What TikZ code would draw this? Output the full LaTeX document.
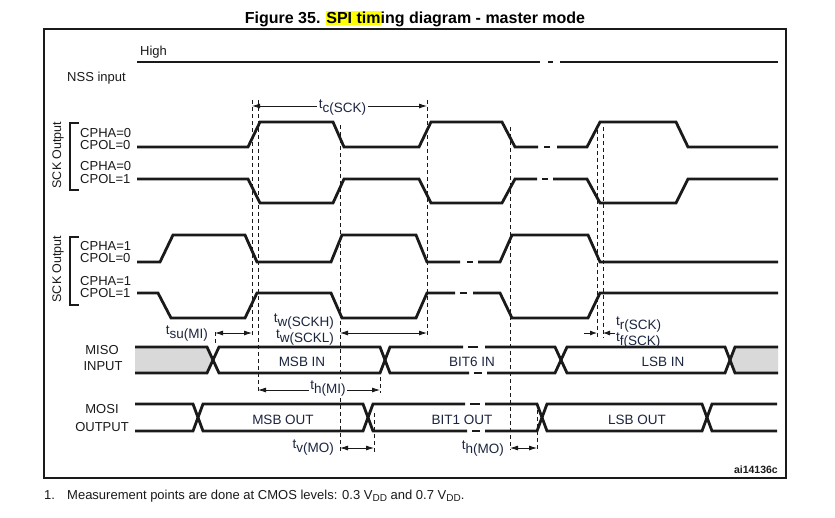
\documentclass[tikz,border=0pt]{standalone}
\usepackage{fontspec}
\setmainfont{Liberation Sans}
\usetikzlibrary{arrows.meta}
\definecolor{ink}{HTML}{1A1A1A}
\definecolor{lbl}{HTML}{1C2540}
\definecolor{greyfill}{HTML}{D9D9D9}
\definecolor{hl}{HTML}{FFFF00}
\newcommand\tsb[1]{t\raisebox{-4pt}{#1}}
\newcommand\vdd{V\raisebox{-2.5pt}{\fontsize{10}{12}\selectfont DD}}
\begin{document}
\begin{tikzpicture}[x=1pt,y=-1pt,
  sig/.style={draw=ink,line width=2.8pt},
  guide/.style={draw=ink,line width=0.9pt,dash pattern=on 4pt off 3pt},
  dim/.style={draw=ink,line width=0.8pt,{Latex[length=8pt,width=5pt]}-{Latex[length=8pt,width=5pt]}},
  onearr/.style={draw=ink,line width=0.8pt,-{Latex[length=7pt,width=5pt]}},
  lab/.style={font=\fontsize{13.5}{15}\selectfont,text=lbl,inner sep=0pt},
  blab/.style={font=\fontsize{13}{15}\selectfont,text=ink,inner sep=0pt},
  bracket/.style={draw=ink,line width=2.4pt}
]
\useasboundingbox (0,0) rectangle (835,517);
\fill[white] (0,0) rectangle (835,517);

% title
\node[font=\bfseries\fontsize{16}{18}\selectfont,anchor=base,inner sep=0pt] (title) at (415,23)
  {Figure 35. {\setlength\fboxsep{0pt}\colorbox{hl}{\rule[-2pt]{0pt}{14pt}SPI tim}}ing diagram - master mode};

% frame
\draw[ink,line width=1.2pt] (44,29) rectangle (786,478);

% NSS
\node[blab,anchor=base west] (high) at (140,55) {High};
\node[blab,anchor=base west] (nss) at (67,81.5) {NSS input};
\draw[sig] (137,62) -- (540,62);
\draw[sig] (548,62) -- (553,62);
\draw[sig] (560,62) -- (778,62);

% brackets and row labels
\draw[bracket] (79,123) -- (70,123) -- (70,190) -- (79,190);
\draw[bracket] (79,237) -- (70,237) -- (70,305) -- (79,305);
\node[blab,rotate=90,font=\fontsize{12.5}{14}\selectfont] (sck1) at (58,155) {SCK Output};
\node[blab,rotate=90,font=\fontsize{12.5}{14}\selectfont] (sck2) at (58,269) {SCK Output};
\node[blab,anchor=base west] (r1a) at (80,137) {CPHA=0};
\node[blab,anchor=base west] (r1b) at (80,149) {CPOL=0};
\node[blab,anchor=base west] (r2a) at (80,170) {CPHA=0};
\node[blab,anchor=base west] (r2b) at (80,183) {CPOL=1};
\node[blab,anchor=base west] (r3a) at (80,250) {CPHA=1};
\node[blab,anchor=base west] (r3b) at (80,262.5) {CPOL=0};
\node[blab,anchor=base west] (r4a) at (80,285) {CPHA=1};
\node[blab,anchor=base west] (r4b) at (80,297) {CPOL=1};

% dashed guide lines
\draw[guide] (252,100) -- (252,337);
\draw[guide] (258,100) -- (258,393);
\draw[guide] (340,125) -- (340,452);
\draw[guide] (427,100) -- (427,338);
\draw[guide] (510,127) -- (510,450);
\draw[guide] (597,130) -- (597,338);
\draw[guide] (603,127) -- (603,338);
\draw[guide] (215,332) -- (215,345);
\draw[guide] (380,377) -- (380,393);
\draw[guide] (374,413) -- (374,452);
\draw[guide] (537,410) -- (537,452);

% SCK row 1: CPHA=0 CPOL=0
\draw[sig] (137,147) -- (248,147) -- (260,122) -- (333,122) -- (344,147) -- (419,147) -- (431,122)
  -- (502,122) -- (515,147) -- (538,147);
\draw[sig] (544,147) -- (550,147);
\draw[sig] (557,147) -- (587,147) -- (600,122) -- (676,122) -- (688,147) -- (778,147);

% SCK row 2: CPHA=0 CPOL=1
\draw[sig] (137,179) -- (248,179) -- (260,203) -- (333,203) -- (344,179) -- (419,179) -- (431,203)
  -- (502,203) -- (515,179) -- (537,179);
\draw[sig] (542,179) -- (548,179);
\draw[sig] (553,179) -- (587,179) -- (600,203) -- (676,203) -- (688,179) -- (778,179);

% SCK row 3: CPHA=1 CPOL=0
\draw[sig] (137,262) -- (160,262) -- (173,235) -- (245,235) -- (257,262) -- (331,262) -- (342,235)
  -- (416,235) -- (427,262) -- (460,262);
\draw[sig] (467,262) -- (473,262);
\draw[sig] (478,262) -- (500,262) -- (512,235) -- (588,235) -- (600,262) -- (778,262);

% SCK row 4: CPHA=1 CPOL=1
\draw[sig] (137,293) -- (158,293) -- (171,318) -- (245,318) -- (257,293) -- (331,293) -- (342,318)
  -- (416,318) -- (427,293) -- (455,293);
\draw[sig] (460,293) -- (467,293);
\draw[sig] (473,293) -- (500,293) -- (512,318) -- (588,318) -- (600,293) -- (778,293);

% MISO
\fill[greyfill] (135,347) -- (207,347) -- (213,360) -- (207,373) -- (135,373) -- cycle;
\fill[greyfill] (730,360) -- (735,347) -- (778,347) -- (778,373) -- (735,373) -- cycle;
\draw[sig] (135,347) -- (207,347) -- (219,373) -- (380,373) -- (390,347) -- (463,347);
\draw[sig] (468,347) -- (478,347);
\draw[sig] (485,347) -- (555,347) -- (567,373) -- (725,373) -- (735,347) -- (778,347);
\draw[sig] (135,373) -- (207,373) -- (219,347) -- (380,347) -- (390,373) -- (469,373);
\draw[sig] (474,373) -- (482,373);
\draw[sig] (487,373) -- (555,373) -- (567,347) -- (725,347) -- (735,373) -- (778,373);
\node[blab,anchor=base] (miso1) at (102,354) {MISO};
\node[blab,anchor=base] (miso2) at (103,370) {INPUT};
\node[lab,anchor=base] (msbin) at (302,366) {MSB IN};
\node[lab,anchor=base] (bit6) at (472,366) {BIT6 IN};
\node[lab,anchor=base] (lsbin) at (663,366) {LSB IN};

% MOSI
\draw[sig] (135,404) -- (193,404) -- (203,431) -- (363,431) -- (373,404) -- (465,404);
\draw[sig] (470,404) -- (480,404);
\draw[sig] (485,404) -- (537,404) -- (547,431) -- (702,431) -- (712,404) -- (777,404);
\draw[sig] (135,431) -- (193,431) -- (203,404) -- (363,404) -- (373,431) -- (467,431);
\draw[sig] (472,431) -- (480,431);
\draw[sig] (485,431) -- (537,431) -- (547,404) -- (702,404) -- (712,431) -- (777,431);
\node[blab,anchor=base] (mosi1) at (102,413) {MOSI};
\node[blab,anchor=base] (mosi2) at (102,431) {OUTPUT};
\node[lab,anchor=base] (msbout) at (283,424) {MSB OUT};
\node[lab,anchor=base] (bit1) at (462,424) {BIT1 OUT};
\node[lab,anchor=base] (lsbout) at (637,424) {LSB OUT};

% timing dimension arrows
\coordinate (tcA) at (252,106); \coordinate (tcB) at (427,106);
\draw[dim] (tcA) -- (tcB);
\node[lab,anchor=base,fill=white,inner sep=1.5pt] (tc) at (342.5,108) {\tsb{c(SCK)}};

\coordinate (suA) at (215,333); \coordinate (suB) at (252,333);
\draw[dim] (suA) -- (suB);
\node[lab,anchor=base east] (tsu) at (208,334) {\tsb{su(MI)}};

\coordinate (twA) at (340,333); \coordinate (twB) at (427,333);
\draw[dim] (twA) -- (twB);
\node[lab,anchor=base east] (twh) at (334,322.5) {\tsb{w(SCKH)}};
\node[lab,anchor=base east] (twl) at (334,338) {\tsb{w(SCKL)}};

\coordinate (trA) at (584,333); \coordinate (trB) at (597,333);
\coordinate (tfA) at (615,333); \coordinate (tfB) at (603,333);
\draw[onearr] (trA) -- (trB);
\draw[onearr] (tfA) -- (tfB);
\node[lab,anchor=base west] (tr) at (616,325.5) {\tsb{r(SCK)}};
\node[lab,anchor=base west] (tf) at (616,341) {\tsb{f(SCK)}};

\coordinate (thA) at (258,390); \coordinate (thB) at (380,390);
\draw[dim] (thA) -- (thB);
\node[lab,anchor=base,fill=white,inner sep=1.5pt] (thmi) at (328,389) {\tsb{h(MI)}};

\coordinate (tvA) at (340,448); \coordinate (tvB) at (374,448);
\draw[dim] (tvA) -- (tvB);
\node[lab,anchor=base east] (tv) at (334,448) {\tsb{v(MO)}};

\coordinate (thoA) at (510,448); \coordinate (thoB) at (537,448);
\draw[dim] (thoA) -- (thoB);
\node[lab,anchor=base east] (thmo) at (504,449) {\tsb{h(MO)}};

% id and footnote
\node[anchor=base east,inner sep=0pt,font=\bfseries\fontsize{10.5}{12}\selectfont,text=ink] (id) at (778,473) {ai14136c};
\node[blab,anchor=base west] (fn1) at (44,499) {1.};
\node[blab,anchor=base west] (fn2) at (67,499) {Measurement points are done at CMOS levels: 0.3 \vdd{} and 0.7 \vdd.};
\end{tikzpicture}
\end{document}
